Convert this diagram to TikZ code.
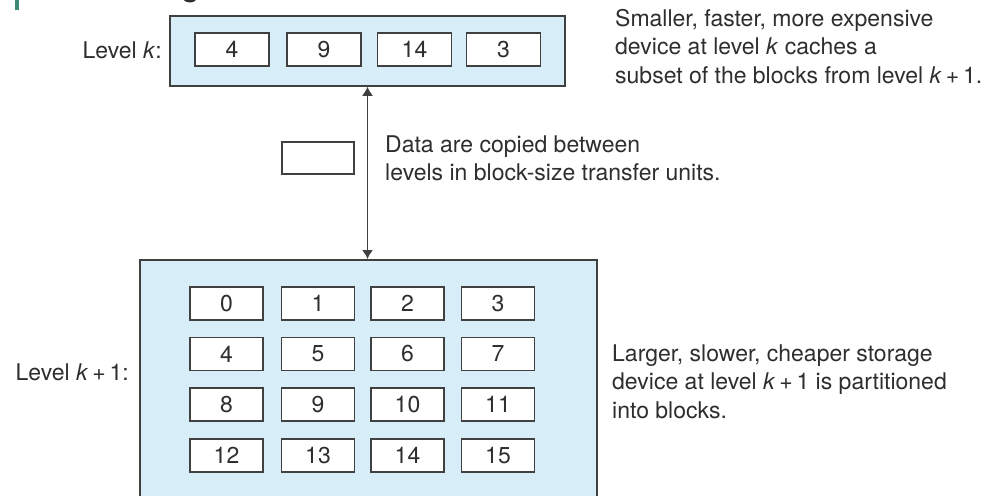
\documentclass[tikz,border=0pt]{standalone}
\usepackage{fontspec}
\setmainfont{TeX Gyre Heros}
\usetikzlibrary{arrows.meta}
\definecolor{boxfill}{HTML}{D7EEF9}
\definecolor{edge}{HTML}{404040}
\definecolor{txt}{HTML}{2E2E2E}
\definecolor{accent}{HTML}{3E8A76}
\tikzset{celltip/.tip={Latex[length=9pt,width=11pt]}}
\begin{document}
\begin{tikzpicture}[x=1pt,y=-1pt,
  every node/.style={font=\fontsize{23}{28.5}\selectfont, text=txt},
  cell/.style={draw=edge, line width=1.6pt, fill=white, minimum width=73pt, minimum height=33pt, inner sep=0pt},
  levelbox/.style={draw=edge, line width=1.6pt, fill=boxfill, inner sep=0pt},
  note/.style={align=left, anchor=base west, inner sep=0pt},
  lbl/.style={anchor=east, inner sep=0pt}
]
\useasboundingbox (0,0) rectangle (1000,495);
\clip (0,0) rectangle (1000,495);
\fill[white] (0,0) rectangle (1000,495);
% cropped fragments at the top edge
\fill[accent] (15,0) rectangle (19,10);
\node[anchor=base west, inner sep=0pt, font=\fontsize{34}{40}\selectfont] (frag) at (181,-4) {g};
% level k
\node[levelbox, minimum width=395pt, minimum height=70pt] (top) at (367.5,51) {};
\node[cell, minimum width=74pt] (t1) at (232,49.5) {4};
\node[cell, minimum width=74pt] (t2) at (324,49.5) {9};
\node[cell, minimum width=74pt] (t3) at (414.5,49.5) {14};
\node[cell, minimum width=74pt] (t4) at (503.5,49.5) {3};
\node[lbl] (lk) at (162,50) {Level \textit{k}:};
% level k+1
\node[levelbox, minimum width=457pt, minimum height=280pt, anchor=north] (bot) at (368.5,259) {};
\foreach \r/\y in {0/303.5,1/354,2/404.5,3/455.5}{
  \foreach \c/\x in {0/226.5,1/318,2/407.5,3/498}{
    \pgfmathtruncatemacro{\n}{4*\r+\c}
    \node[cell] (b\n) at (\x,\y) {\n};
  }
}
\node[lbl] (lk1) at (129,372) {Level \textit{k}\,+\,1:};
% transfer unit and arrow
\node[cell, minimum width=72pt, minimum height=32pt, fill=none] (unit) at (318,158) {};
\draw[edge, line width=1.4pt, {celltip}-{celltip}] (top.south) -- (top.south |- bot.north);
% notes (base = baseline of the last line)
\node[note] (n1) at (615,83.5) {Smaller, faster, more expensive\\device at level \textit{k} caches a\\subset of the blocks from level \textit{k}\,+\,1.};
\node[note] (n2) at (385,180.5) {Data are copied between\\levels in block-size transfer units.};
\node[note] (n3) at (612,418) {Larger, slower, cheaper storage\\device at level \textit{k}\,+\,1 is partitioned\\into blocks.};
\end{tikzpicture}
\end{document}
